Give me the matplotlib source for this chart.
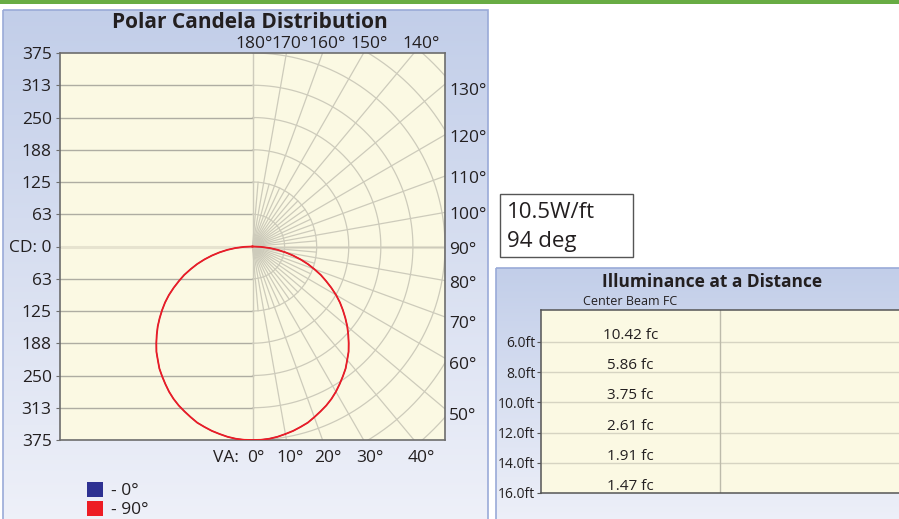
import numpy as np
import matplotlib.pyplot as plt
from matplotlib.patches import Rectangle, Patch

plt.rcParams['font.family'] = ['Open Sans', 'DejaVu Sans']

# candela values, vertical angle in degrees
va_deg = [0, 2.5, 5, 7.5, 10, 12.5, 15, 17.5, 20, 22.5, 25, 27.5, 30, 32.5, 35, 37.5,
          40, 42.5, 45, 47.5, 50, 52.5, 55, 57.5, 60, 62.5, 65, 67.5, 70, 72.5, 75,
          77.5, 80, 82.5, 85, 87.5, 90]
cd_plane0 = [375, 375, 374, 372, 369, 366, 362, 358, 352, 346, 340, 333, 325, 316, 307, 298,
             287, 277, 265, 253, 241, 228, 215, 202, 188, 173, 158, 144, 128, 113, 97,
             81, 65, 49, 33, 16, 0]
cd_plane90 = [375, 375, 374, 372, 369, 366, 362, 358, 352, 346, 340, 333, 325, 316, 307, 298,
              287, 277, 265, 253, 241, 228, 215, 202, 188, 173, 158, 144, 128, 113, 97,
              81, 65, 49, 33, 16, 0]

cd_ticks = [375, 312.5, 250, 187.5, 125, 62.5, 0, -62.5, -125, -187.5, -250, -312.5, -375]
cd_tick_labels = ['375', '313', '250', '188', '125', '63', 'CD: 0',
                  '63', '125', '188', '250', '313', '375']
angles_right = [50, 60, 70, 80, 90, 100, 110, 120, 130]
angles_bottom = [0, 10, 20, 30, 40]
angles_top = [140, 150, 160, 170, 180]

distances = [6, 8, 10, 12, 14, 16]
dist_labels = ['6.0ft', '8.0ft', '10.0ft', '12.0ft', '14.0ft', '16.0ft']
center_fc = [10.42, 5.86, 3.75, 2.61, 1.91, 1.47]

W, H = 899, 519
CREAM = '#fbf9e3'
GRID = '#cdcbbb'
DARK = '#231f20'


def fig_rect(x0, y0, x1, y1):
    # pixel box (top-left origin) -> figure fraction
    return [x0 / W, 1 - y1 / H, (x1 - x0) / W, (y1 - y0) / H]


def main():
    fig = plt.figure(figsize=(W / 100, H / 100), dpi=100)
    bg = fig.add_axes([0, 0, 1, 1], zorder=0)
    bg.axis('off')

    # green strip and the two blue panels
    bg.add_patch(Rectangle((0, 0), W, 3.5, color='#68ac44', lw=0))
    grad = np.linspace(0, 1, 256)[:, None]
    cmap = plt.matplotlib.colors.LinearSegmentedColormap.from_list('p', ['#c2cee9', '#eff1f9'])
    for x0, y0, x1, y1 in [(3, 10, 488, 530), (496, 268, 905, 530)]:
        bg.imshow(grad, extent=(x0, x1, y1, y0), cmap=cmap, aspect='auto', zorder=1)
        bg.add_patch(Rectangle((x0, y0), x1 - x0, y1 - y0, fill=False, ec='#9aaad8', lw=1.2, zorder=2))
    bg.set_xlim(0, W)
    bg.set_ylim(H, 0)

    bg.text(250, 22, 'Polar Candela Distribution', ha='center', va='center',
            fontsize=15, fontweight='bold', color=DARK)
    bg.text(712, 282, 'Illuminance at a Distance', ha='center', va='center',
            fontsize=12.5, fontweight='bold', color=DARK)

    # info box
    bg.add_patch(Rectangle((500, 194), 133, 63, fc='white', ec='#555555', lw=1, zorder=3))
    bg.text(507, 212, '10.5W/ft', ha='left', va='center', fontsize=16, color=DARK, zorder=4)
    bg.text(507, 242, '94 deg', ha='left', va='center', fontsize=16, color=DARK, zorder=4)

    # polar candela plot
    ax = fig.add_axes(fig_rect(60, 53, 445, 440), zorder=2)
    ax.set_facecolor(CREAM)
    ax.set_xlim(-375, 375)
    ax.set_ylim(-375, 375)
    for s in ax.spines.values():
        s.set_color('#6d6d6d')
        s.set_linewidth(1.2)

    for y in cd_ticks[1:-1]:
        if y != 0:
            ax.plot([-375, 0], [y, y], color='#aeada2', lw=1, zorder=1)
    ax.axhline(0, color='#e6e3cf', lw=2.2, zorder=1)
    ax.axvline(0, color=GRID, lw=1, zorder=1)

    t = np.radians(np.linspace(0, 180, 361))
    for r in np.arange(62.5, 562.5, 62.5):
        ax.plot(r * np.sin(t), -r * np.cos(t), color=GRID, lw=0.9, zorder=1)
    for a in range(5, 180, 5):
        rr = 800 if a % 10 == 0 else 125
        ar = np.radians(a)
        ax.plot([0, rr * np.sin(ar)], [0, -rr * np.cos(ar)], color=GRID, lw=0.9, zorder=1)

    va = np.radians(va_deg)
    for cd, col, lw in [(cd_plane0, '#2e3192', 0.8), (cd_plane90, '#ed1c24', 1.3)]:
        cd = np.array(cd, dtype=float)
        xs = np.concatenate([-(cd * np.sin(va))[::-1], cd * np.sin(va)])
        ys = np.concatenate([(-cd * np.cos(va))[::-1], -cd * np.cos(va)])
        ax.plot(xs, ys, color=col, lw=lw, zorder=3)

    ax.set_xticks([])
    ax.set_yticks(cd_ticks)
    ax.set_yticklabels(cd_tick_labels)
    ax.tick_params(axis='y', length=3, width=0.8, color='#6d6d6d', pad=3,
                   labelsize=12.5, labelcolor=DARK)

    lab = dict(fontsize=12.5, color=DARK, textcoords='offset pixels', annotation_clip=False)
    for a in angles_right:
        ar = np.radians(a)
        dy = -7 if (a < 80 or a > 120) else -3
        ax.annotate(f'{a}°', xy=(375, -375 * np.cos(ar) / np.sin(ar)), xytext=(4, dy),
                    ha='left', va='center', **lab)
    for a in angles_bottom:
        ar = np.radians(a)
        ax.annotate(f'{a}°', xy=(375 * np.tan(ar), -375), xytext=(3 + a / 10, -10),
                    ha='center', va='top', **lab)
    ax.annotate('VA:', xy=(0, -375), xytext=(-14, -10), ha='right', va='top', **lab)
    for a in angles_top:
        ar = np.radians(180 - a)
        ax.annotate(f'{a}°', xy=(375 * np.tan(ar), 375), xytext=(2 + (180 - a) / 8, 1),
                    ha='center', va='bottom', **lab)

    handles = [Patch(fc='#2e3192', ec='none'), Patch(fc='#ed1c24', ec='none')]
    fig.legend(handles, ['- 0°', '- 90°'], loc='upper left',
               bbox_to_anchor=(78 / W, 1 - 473 / H), frameon=False, fontsize=12.5,
               handlelength=0.95, handleheight=0.95, handletextpad=0.45,
               labelspacing=0.1, borderpad=0, labelcolor=DARK)

    # illuminance table
    ax2 = fig.add_axes(fig_rect(541, 310, 899, 493), zorder=2)
    ax2.set_facecolor(CREAM)
    ax2.set_xlim(0, 2)
    ax2.set_ylim(16, 3.9)
    for side in ['left', 'top', 'bottom']:
        ax2.spines[side].set_color('#555555')
        ax2.spines[side].set_linewidth(1.1)
    ax2.spines['right'].set_visible(False)
    for d in distances[:-1]:
        ax2.axhline(d, color='#d6d4c2', lw=1)
    ax2.axvline(1, color='#bdbbab', lw=1)
    ax2.set_xticks([])
    ax2.set_yticks(distances)
    ax2.set_yticklabels(dist_labels)
    ax2.tick_params(axis='y', length=3, width=0.8, color='#555555', pad=1,
                    labelsize=10, labelcolor=DARK)
    for d, fc in zip(distances, center_fc):
        ax2.annotate(f'{fc:.2f} fc', xy=(0.5, d), xytext=(0, 3), textcoords='offset pixels',
                     ha='center', va='baseline', fontsize=11, color=DARK)
    ax2.annotate('Center Beam FC', xy=(0.5, 3.9), xytext=(0, 2), textcoords='offset pixels',
                 ha='center', va='bottom', fontsize=9, color=DARK, annotation_clip=False)

    fig.savefig('out.png', dpi=100)


if __name__ == '__main__':
    main()
